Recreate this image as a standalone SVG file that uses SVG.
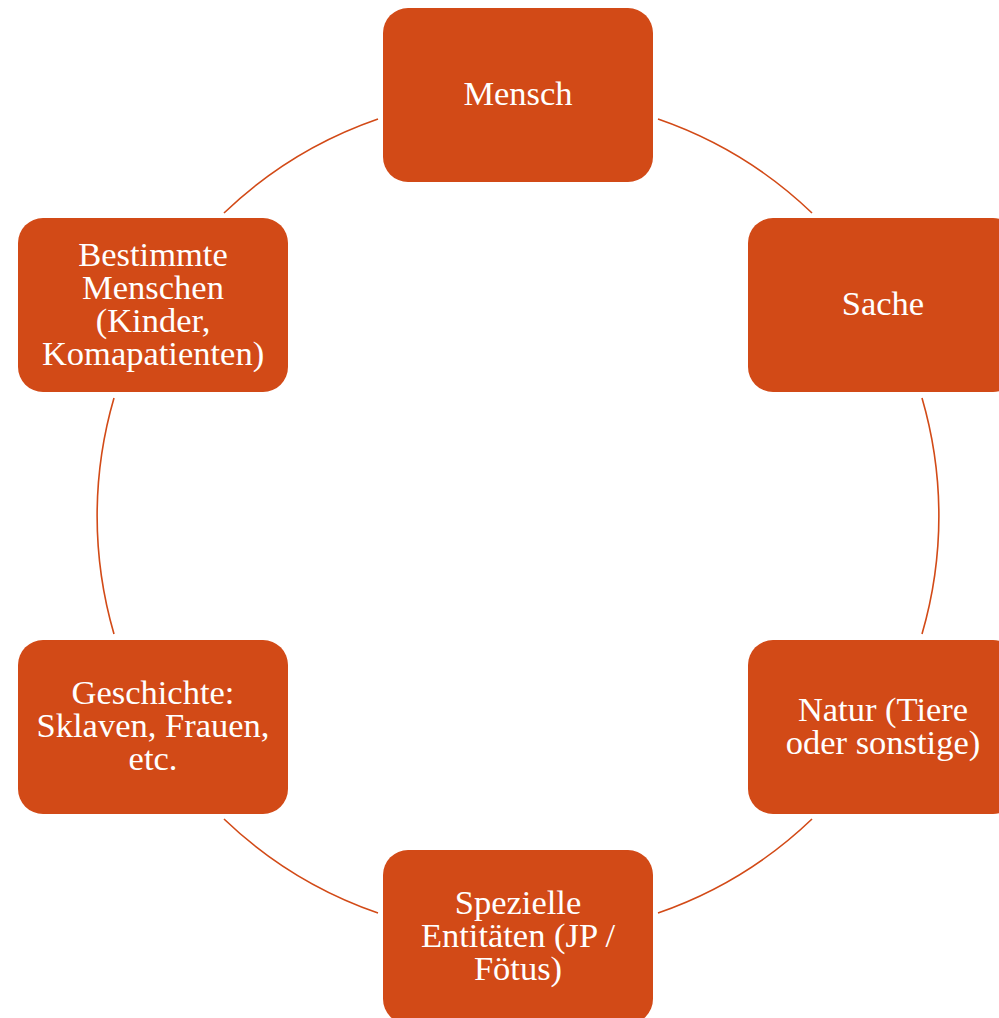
<svg xmlns="http://www.w3.org/2000/svg" width="999" height="1018" viewBox="0 0 999 1018">
<style>
.box{fill:#D24A17;}
.arc{fill:none;stroke:#D24A17;stroke-width:1.6;}
.t{font-family:"Liberation Serif","Times New Roman",serif;font-size:34.5px;fill:#ffffff;text-anchor:middle;}
</style>
<rect width="999" height="1018" fill="#ffffff"/>
<g id="connectors">
<path class="arc" d="M658,119 A421,421 0 0 1 812,213"/>
<path class="arc" d="M922,398 A421,421 0 0 1 922,634"/>
<path class="arc" d="M812,819 A421,421 0 0 1 658,913"/>
<path class="arc" d="M378,913 A421,421 0 0 1 224,819"/>
<path class="arc" d="M114,634 A421,421 0 0 1 114,398"/>
<path class="arc" d="M224,213 A421,421 0 0 1 378,119"/>
</g>
<g id="mensch">
<rect class="box" x="383" y="8" width="270" height="174" rx="25"/>
<text class="t" x="518" y="105">Mensch</text>
</g>
<g id="sache">
<rect class="box" x="748" y="218" width="270" height="174" rx="25"/>
<text class="t" x="883" y="315">Sache</text>
</g>
<g id="natur">
<rect class="box" x="748" y="640" width="270" height="174" rx="25"/>
<text class="t" x="883" y="720.5">Natur (Tiere</text>
<text class="t" x="883" y="753.5">oder sonstige)</text>
</g>
<g id="spezielle">
<rect class="box" x="383" y="850" width="270" height="174" rx="25"/>
<text class="t" x="518" y="914">Spezielle</text>
<text class="t" x="518" y="947">Entitäten (JP /</text>
<text class="t" x="518" y="980">Fötus)</text>
</g>
<g id="geschichte">
<rect class="box" x="18" y="640" width="270" height="174" rx="25"/>
<text class="t" x="153" y="704">Geschichte:</text>
<text class="t" x="153" y="737">Sklaven, Frauen,</text>
<text class="t" x="153" y="770">etc.</text>
</g>
<g id="bestimmte">
<rect class="box" x="18" y="218" width="270" height="174" rx="25"/>
<text class="t" x="153" y="265.5">Bestimmte</text>
<text class="t" x="153" y="298.5">Menschen</text>
<text class="t" x="153" y="331.5">(Kinder,</text>
<text class="t" x="153" y="364.5">Komapatienten)</text>
</g>
</svg>
